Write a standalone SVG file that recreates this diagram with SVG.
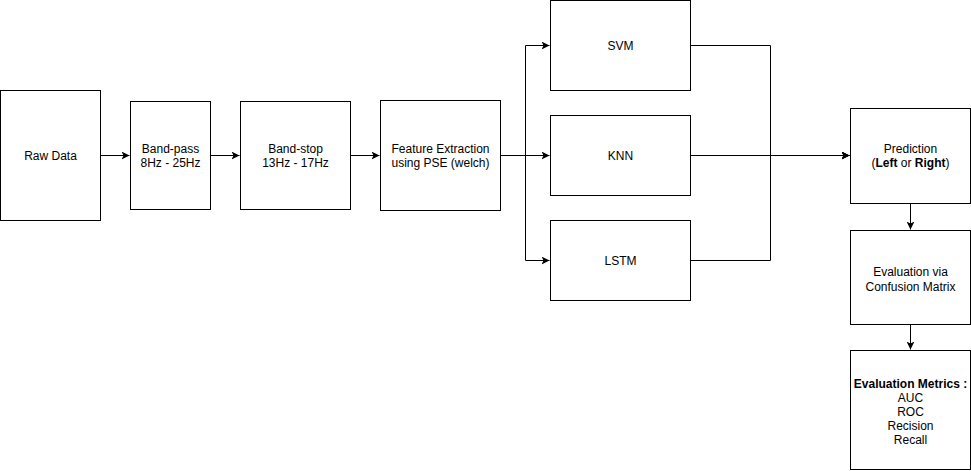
<svg xmlns="http://www.w3.org/2000/svg" width="971" height="471" viewBox="0 0 971 471">
<style>
.box{fill:#fff;stroke:#000;stroke-width:1}
.t{font-family:"Liberation Sans",Arial,Helvetica,sans-serif;font-size:12px;fill:#000;text-anchor:middle}
.b{font-weight:bold}
.c{fill:none;stroke:#000;stroke-width:1}
</style>
<defs>
<marker id="ah" viewBox="0 0 10 10" refX="10" refY="5" markerWidth="8" markerHeight="8" markerUnits="userSpaceOnUse" orient="auto">
<path d="M0,0 L10,5 L0,10 L2.5,5 Z" fill="#000"/>
</marker>
</defs>
<rect width="971" height="471" fill="#fff"/>
<g id="connectors">
<path class="c" d="M100.5,155.5 H129.5" marker-end="url(#ah)"/>
<path class="c" d="M210.5,155.5 H239.5" marker-end="url(#ah)"/>
<path class="c" d="M350.5,155.5 H379.5" marker-end="url(#ah)"/>
<path class="c" d="M500.5,155.5 H525.5 V45.5 H549.5" marker-end="url(#ah)"/>
<path class="c" d="M500.5,155.5 H549.5" marker-end="url(#ah)"/>
<path class="c" d="M525.5,155.5 V260.5 H549.5" marker-end="url(#ah)"/>
<path class="c" d="M690.5,45.5 H770.5 V155.5 H849.5" marker-end="url(#ah)"/>
<path class="c" d="M690.5,155.5 H849.5" marker-end="url(#ah)"/>
<path class="c" d="M690.5,260.5 H770.5 V155.5 H849.5" marker-end="url(#ah)"/>
<path class="c" d="M910.5,203.5 V229.5" marker-end="url(#ah)"/>
<path class="c" d="M910.5,324.5 V349.5" marker-end="url(#ah)"/>
</g>
<g id="raw">
<rect class="box" x="0.5" y="90.5" width="100" height="130"/>
<text class="t" x="50.5" y="159.5">Raw Data</text>
</g>
<g id="bandpass">
<rect class="box" x="130.5" y="101.5" width="80" height="108"/>
<text class="t" x="170.5" y="152.5">Band-pass</text>
<text class="t" x="170.5" y="166.5">8Hz - 25Hz</text>
</g>
<g id="bandstop">
<rect class="box" x="240.5" y="101.5" width="110" height="108"/>
<text class="t" x="295.5" y="152.5">Band-stop</text>
<text class="t" x="295.5" y="166.5">13Hz - 17Hz</text>
</g>
<g id="feature">
<rect class="box" x="380.5" y="100.5" width="120" height="110"/>
<text class="t" x="440.5" y="152.5">Feature Extraction</text>
<text class="t" x="440.5" y="166.5">using PSE (welch)</text>
</g>
<g id="svm">
<rect class="box" x="550.5" y="0.5" width="140" height="90"/>
<text class="t" x="620.5" y="49.5">SVM</text>
</g>
<g id="knn">
<rect class="box" x="550.5" y="115.5" width="140" height="80"/>
<text class="t" x="620.5" y="159.5">KNN</text>
</g>
<g id="lstm">
<rect class="box" x="550.5" y="220.5" width="140" height="80"/>
<text class="t" x="620.5" y="264.5">LSTM</text>
</g>
<g id="prediction">
<rect class="box" x="850.5" y="108.5" width="120" height="95"/>
<text class="t" x="910.5" y="152.5">Prediction</text>
<text class="t" x="910.5" y="166.5">(<tspan class="b">Left</tspan> or <tspan class="b">Right</tspan>)</text>
</g>
<g id="confusion">
<rect class="box" x="850.5" y="230.5" width="120" height="94"/>
<text class="t" x="910.5" y="275.5">Evaluation via</text>
<text class="t" x="910.5" y="290.5">Confusion Matrix</text>
</g>
<g id="metrics">
<rect class="box" x="850.5" y="350.5" width="120" height="119"/>
<text class="t b" x="910.5" y="387.5">Evaluation Metrics :</text>
<text class="t" x="910.5" y="401.5">AUC</text>
<text class="t" x="910.5" y="415.5">ROC</text>
<text class="t" x="910.5" y="429.5">Recision</text>
<text class="t" x="910.5" y="443.5">Recall</text>
</g>
</svg>
